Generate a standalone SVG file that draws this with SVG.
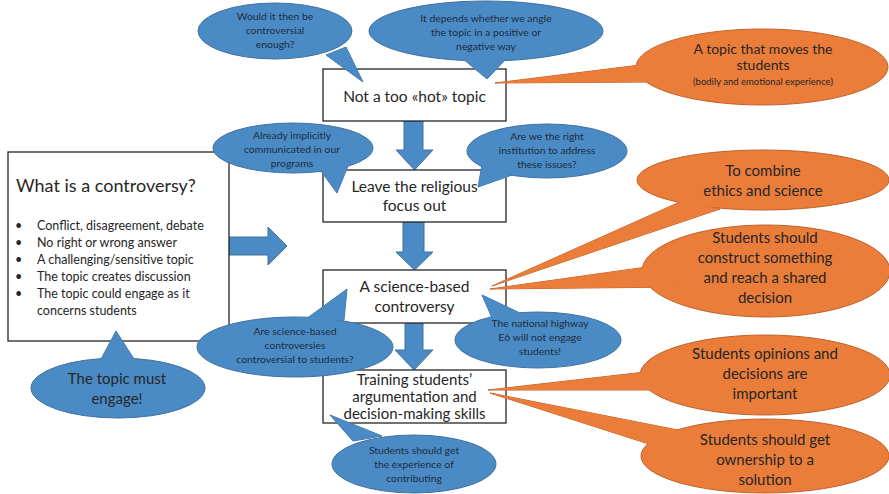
<svg xmlns="http://www.w3.org/2000/svg" width="889" height="494" viewBox="0 0 889 494">
<style>
.box{fill:#fff;stroke:#262626;stroke-width:1.3}
.bf{fill:#4A8BC6}
.bs{fill:#4A8BC6;stroke:#41719C;stroke-width:1}
.of{fill:#EA7D3A}
.os{fill:#EA7D3A;stroke:#C0622A;stroke-width:1}
text{font-family:Lato,"Open Sans","Liberation Sans",sans-serif;fill:#262626;text-anchor:middle}
.s{font-size:10.4px;fill:#1E2B3C}
.m{font-size:15px}
.b{font-size:15.5px}
.l{font-size:12.5px;text-anchor:start}
</style>
<rect width="889" height="494" fill="#fff"/>

<g id="connectors">
<path class="bs" d="M404,121 H423 V150 H433 L414.5,170 L396,150 H404 Z"/>
<path class="bs" d="M403,222 H424 V252 H433 L414.5,270 L396,252 H403 Z"/>
<path class="bs" d="M405,323 H423 V350 H433 L414,370 L395,350 H405 Z"/>
<path class="bs" d="M229,237 H268 V227 L287,246 L268,265 V255 H229 Z"/>
</g>

<g id="box-what">
<rect class="box" x="8" y="152" width="221" height="189"/>
<text x="16" y="192" style="font-size:18px;text-anchor:start">What is a controversy?</text>
<g class="l">
<text class="l" x="15" y="230">•</text><text class="l" x="37" y="230">Conflict, disagreement, debate</text>
<text class="l" x="15" y="247">•</text><text class="l" x="37" y="247">No right or wrong answer</text>
<text class="l" x="15" y="264">•</text><text class="l" x="37" y="264">A challenging/sensitive topic</text>
<text class="l" x="15" y="281">•</text><text class="l" x="37" y="281">The topic creates discussion</text>
<text class="l" x="15" y="298">•</text><text class="l" x="37" y="298">The topic could engage as it</text>
<text class="l" x="37" y="315">concerns students</text>
</g>
</g>

<g id="box-hot">
<rect class="box" x="323" y="69" width="183" height="52"/>
<text class="b" x="414.5" y="102">Not a too «hot» topic</text>
</g>
<g id="box-religious">
<rect class="box" x="323" y="170" width="183" height="52"/>
<text class="b" x="414.5" y="192">Leave the religious</text>
<text class="b" x="414.5" y="211">focus out</text>
</g>
<g id="box-science">
<rect class="box" x="323" y="270" width="183" height="53"/>
<text class="b" x="414.5" y="292">A science-based</text>
<text class="b" x="414.5" y="312">controversy</text>
</g>
<g id="box-training">
<rect class="box" x="323" y="370" width="183" height="53"/>
<text class="m" x="414.5" y="385">Training students’</text>
<text class="m" x="414.5" y="402">argumentation and</text>
<text class="m" x="414.5" y="419">decision-making skills</text>
</g>

<g id="b-enough">
<polygon class="bs" points="326,55 346,47 363,82"/>
<ellipse class="bs" cx="275" cy="31" rx="77" ry="28"/>
<polygon class="bf" points="326,55 346,47 363,82"/>
<text class="s" x="275" y="20">Would it then be</text>
<text class="s" x="275" y="34">controversial</text>
<text class="s" x="275" y="48">enough?</text>
</g>

<g id="b-angle">
<polygon class="bs" points="462,58 507,58 487,79"/>
<ellipse class="bs" cx="486" cy="31" rx="117" ry="30"/>
<polygon class="bf" points="462,58 507,58 487,79"/>
<text class="s" x="486" y="22">It depends whether we angle</text>
<text class="s" x="486" y="36">the topic in a positive or</text>
<text class="s" x="486" y="50">negative way</text>
</g>

<g id="o-moves">
<polygon class="os" points="495,83 640,65 648,82"/>
<ellipse class="os" cx="762" cy="67" rx="126" ry="38"/>
<polygon class="of" points="495,83 640,65 648,82"/>
<text x="763" y="54" style="font-size:14px">A topic that moves the</text>
<text x="763" y="70" style="font-size:14px">students</text>
<text x="763" y="84.5" style="font-size:9.5px">(bodily and emotional experience)</text>
</g>

<g id="b-implicit">
<polygon class="bs" points="318,167 350,161 337,193"/>
<ellipse class="bs" cx="293" cy="148" rx="80" ry="25"/>
<polygon class="bf" points="318,167 350,161 337,193"/>
<text class="s" x="292" y="139">Already implicitly</text>
<text class="s" x="292" y="153">communicated in our</text>
<text class="s" x="292" y="167">programs</text>
</g>

<g id="b-institution">
<polygon class="bs" points="482,165 512,175 478,187"/>
<ellipse class="bs" cx="547" cy="151" rx="80" ry="27"/>
<polygon class="bf" points="482,165 512,175 478,187"/>
<text class="s" x="547" y="140">Are we the right</text>
<text class="s" x="547" y="154">institution to address</text>
<text class="s" x="547" y="168">these issues?</text>
</g>

<g id="o-combine">
<polygon class="os" points="492,286 682,201 720,209"/>
<ellipse class="os" cx="763" cy="180" rx="126" ry="30"/>
<polygon class="of" points="492,286 682,201 720,209"/>
<text class="m" x="763" y="176">To combine</text>
<text class="m" x="763" y="196">ethics and science</text>
</g>

<g id="o-construct">
<polygon class="os" points="490,289 654,266 680,287"/>
<ellipse class="os" cx="766" cy="271" rx="124" ry="46"/>
<polygon class="of" points="490,289 654,266 680,287"/>
<text class="m" x="765" y="243">Students should</text>
<text class="m" x="765" y="263">construct something</text>
<text class="m" x="765" y="283">and reach a shared</text>
<text class="m" x="765" y="303">decision</text>
</g>

<g id="b-science">
<polygon class="bs" points="302,322 344,320 347,289"/>
<ellipse class="bs" cx="295" cy="347" rx="98" ry="30"/>
<polygon class="bf" points="302,322 344,320 347,289"/>
<text class="s" x="295" y="335">Are science-based</text>
<text class="s" x="295" y="349">controversies</text>
<text class="s" x="295" y="363">controversial to students?</text>
</g>

<g id="b-highway">
<polygon class="bs" points="492,318 522,314 482,295"/>
<ellipse class="bs" cx="538" cy="340" rx="83" ry="28"/>
<polygon class="bf" points="492,318 522,314 482,295"/>
<text class="s" x="540" y="327">The national highway</text>
<text class="s" x="540" y="341">E6 will not engage</text>
<text class="s" x="540" y="355">students!</text>
</g>

<g id="b-engage">
<polygon class="bs" points="100,361 134,359 116,331"/>
<ellipse class="bs" cx="118" cy="388" rx="87" ry="30"/>
<polygon class="bf" points="100,361 134,359 116,331"/>
<text class="m" x="117" y="384">The topic must</text>
<text class="m" x="117" y="404">engage!</text>
</g>

<g id="b-contributing">
<polygon class="bs" points="353,441 382,436 330,415"/>
<ellipse class="bs" cx="414" cy="464" rx="82" ry="29"/>
<polygon class="bf" points="353,441 382,436 330,415"/>
<text class="s" x="414" y="454">Students should get</text>
<text class="s" x="414" y="468">the experience of</text>
<text class="s" x="414" y="482">contributing</text>
</g>

<g id="o-opinions">
<polygon class="os" points="488,390 645,372 670,390"/>
<ellipse class="os" cx="765" cy="375" rx="125" ry="40"/>
<polygon class="of" points="488,390 645,372 670,390"/>
<text class="m" x="765" y="359">Students opinions and</text>
<text class="m" x="765" y="379">decisions are</text>
<text class="m" x="765" y="399">important</text>
</g>

<g id="o-ownership">
<polygon class="os" points="490,393 688,432 655,446"/>
<ellipse class="os" cx="765" cy="456" rx="124" ry="37"/>
<polygon class="of" points="490,393 688,432 655,446"/>
<text class="m" x="765" y="445">Students should get</text>
<text class="m" x="765" y="465">ownership to a</text>
<text class="m" x="765" y="485">solution</text>
</g>
</svg>
